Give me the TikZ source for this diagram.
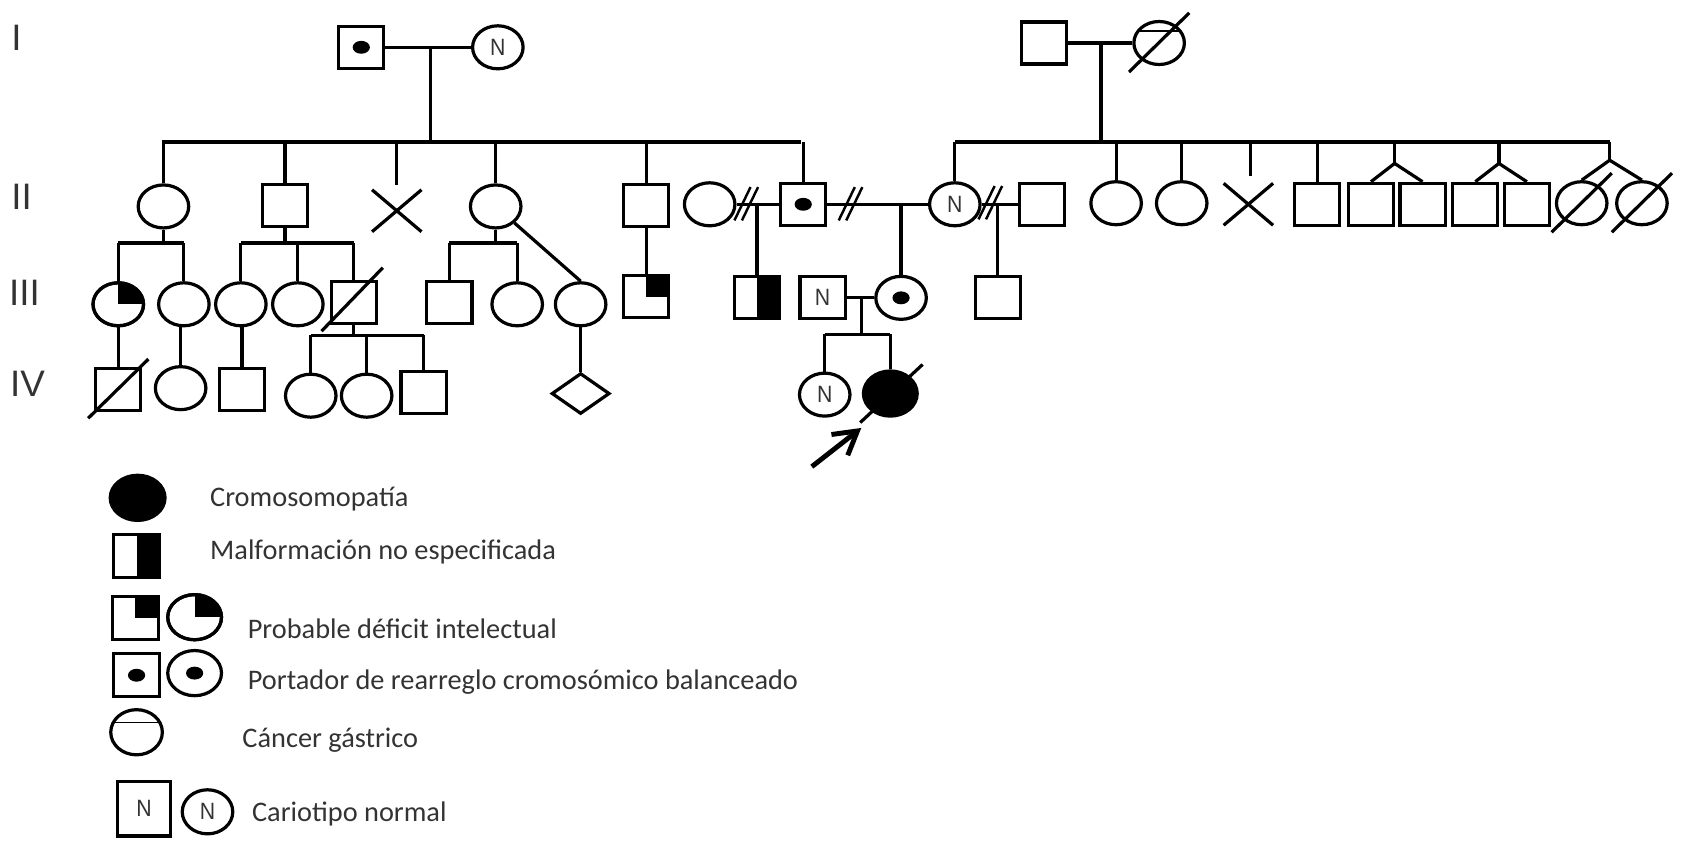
\documentclass[tikz,border=0pt]{standalone}
\usepackage{fontspec}
\setmainfont{Carlito}
\newfontfamily\nfont[FakeStretch=0.9]{Liberation Sans}
\newfontfamily\gfont{Liberation Sans}
\usetikzlibrary{shapes.geometric,shapes.misc,arrows.meta}
\definecolor{ngray}{HTML}{333333}
\begin{document}
\begin{tikzpicture}[x=0.02cm,y=-0.02cm,line width=1.7pt,
  sq/.style={draw,rectangle,inner sep=0pt,minimum width=0.84cm,minimum height=0.78cm},
  ci/.style={draw,ellipse,inner sep=0pt,minimum width=0.94cm,minimum height=0.80cm},
  xx/.style={draw,cross out,inner sep=0pt,minimum width=0.86cm,minimum height=0.72cm},
  dia/.style={draw,diamond,inner sep=0pt,minimum width=1.08cm,minimum height=0.76cm},
  nt/.style={font=\nfont\fontsize{12.5}{14}\selectfont,text=ngray},
  gen/.style={anchor=base west,inner sep=0pt,font=\gfont\fontsize{19.5}{22}\selectfont,text=ngray},
  leg/.style={anchor=base west,inner sep=0pt,font=\fontsize{15}{18}\selectfont,text=ngray},
  dslash/.pic={\draw[line width=1.3pt] (-11,15) -- (4,-16); \draw[line width=1.3pt] (-4,15) -- (11,-16);},
  thin/.style={line width=0.8pt},
  dot/.style={x radius=0.16cm, y radius=0.12cm},
]
\useasboundingbox (0,0) rectangle (1568,783);

% generation labels
\node[gen] (gI) at (9,47) {I};
\node[gen] (gII) at (9,195) {II};
\node[gen] (gIII) at (7,284) {III};
\node[gen] (gIV) at (8,369) {IV};

% generation I
\node[sq] (I1) at (336,44) {};
\node[ci,nt] (I2) at (463,44) {N};
\node[sq] (I3) at (971,40) {};
\node[ci] (I4) at (1078,40) {};
\fill (I1.center) ellipse [dot];
\draw[thin] ([shift={(-19,-11)}]I4.center) -- ([shift={(19,-11)}]I4.center);
\draw ([shift={(-28,27)}]I4.center) -- ([shift={(28,-28)}]I4.center);

% generation II
\node[ci] (II1) at (152,192) {};
\node[sq] (II2) at (265,191) {};
\node[xx] (II3) at (369,196) {};
\node[ci] (II4) at (461,192) {};
\node[sq] (II5) at (601,191) {};
\node[ci] (II6) at (660,190) {};
\node[sq] (II7) at (747,190) {};
\node[ci,nt] (II8) at (888,190) {N};
\node[sq] (II9) at (969,190) {};
\node[ci] (II10) at (1038,189) {};
\node[ci] (II11) at (1099,189) {};
\node[xx] (II12) at (1161,190) {};
\node[sq] (II13) at (1225,190) {};
\node[sq] (II14) at (1275,190) {};
\node[sq] (II15) at (1323,190) {};
\node[sq] (II16) at (1372,190) {};
\node[sq] (II17) at (1420,190) {};
\node[ci] (II18) at (1471,189) {};
\node[ci] (II19) at (1527,189) {};
\fill (II7.center) ellipse [dot];
\draw ([shift={(-28,27)}]II18.center) -- ([shift={(28,-28)}]II18.center);
\draw ([shift={(-28,27)}]II19.center) -- ([shift={(28,-28)}]II19.center);

% generation III
\node[ci] (III1) at (110,283) {};
\node[ci] (III2) at (171,283) {};
\node[ci] (III3) at (224,283) {};
\node[ci] (III4) at (277,283) {};
\node[sq] (III5) at (329,281) {};
\node[sq] (III6) at (418,281) {};
\node[ci] (III7) at (481,283) {};
\node[ci] (III8) at (540,283) {};
\node[sq] (III9) at (601,276) {};
\node[sq] (III10) at (704,277) {};
\node[sq,nt] (III11) at (765,277) {N};
\node[ci] (III12) at (838,277) {};
\node[sq] (III13) at (928,277) {};
\begin{scope}
  \clip (III1.center) ellipse [x radius=0.47cm, y radius=0.40cm];
  \fill (III1.center) rectangle (III1.north -| III1.east);
\end{scope}
\draw (III1) ellipse [x radius=0.47cm, y radius=0.40cm];
\draw ([shift={(-30,27)}]III5.center) -- ([shift={(27,-32)}]III5.center);
\fill (III9.center) rectangle (III9.north east);
\fill (III10.north) rectangle (III10.south east);
\fill (III12.center) ellipse [dot];

% generation IV
\node[sq] (IV1) at (110,362) {};
\node[ci] (IV2) at (168,361) {};
\node[sq] (IV3) at (225,362) {};
\node[ci] (IV4) at (289,368) {};
\node[ci] (IV5) at (341,368) {};
\node[sq] (IV6) at (394,365) {};
\node[dia] (IV7) at (540,366) {};
\node[ci,nt] (IV8) at (767,367) {N};
\node[ci,fill=black,minimum width=1.0cm,minimum height=0.84cm] (IV9) at (828,366) {};
\draw ([shift={(-28,27)}]IV1.center) -- ([shift={(28,-28)}]IV1.center);
\draw ([shift={(-28,27)}]IV9.center) -- ([shift={(30,-27)}]IV9.center);

% connectors: generation I -> II (left family)
\coordinate (cI1) at (400,44);
\coordinate (bL) at (151,132);
\coordinate (bR) at (745,132);
\coordinate (tII3) at (369,172);
\draw (I1) -- (I2);
\draw (cI1) -- (cI1 |- bL);
\draw (bL) -- (bR);
\draw (II1.north) -- (II1.north |- bL);
\draw (II2.north) -- (II2.north |- bL);
\draw (tII3) -- (tII3 |- bL);
\draw (II4.north) -- (II4.north |- bL);
\draw (II5.north) -- (II5.north |- bL);
\draw (II7.north) -- (II7.north |- bL);

% connectors: generation I -> II (right family)
\coordinate (cI2) at (1024,40);
\coordinate (bR1) at (888,132);
\coordinate (bR2) at (1497,132);
\coordinate (tII12) at (1163,164);
\coordinate (tw1) at (1297,152);
\coordinate (tw2) at (1394,152);
\coordinate (tw3) at (1497,149);
\draw (I3) -- (I4);
\draw (cI2) -- (cI2 |- bR1);
\draw (bR1) -- (bR2);
\draw (II8.north) -- (II8.north |- bR1);
\draw (II10.north) -- (II10.north |- bR1);
\draw (II11.north) -- (II11.north |- bR1);
\draw (tII12) -- (tII12 |- bR1);
\draw (II13.north) -- (II13.north |- bR1);
\draw (tw1 |- bR1) -- (tw1);
\draw (II14.north) -- (tw1) -- (II15.north);
\draw (tw2 |- bR1) -- (tw2);
\draw (II16.north) -- (tw2) -- (II17.north);
\draw (tw3 |- bR1) -- (tw3);
\draw (II18.north) -- (tw3) -- (II19.north);

% couples in generation II
\coordinate (cII67) at (704,190);
\coordinate (cII78) at (838,190);
\coordinate (cII89) at (928,190);
\draw (II6) -- (II7);
\draw (II7) -- (II8);
\draw (II8) -- (II9);
\pic at (694,190) {dslash};
\pic at (791,190) {dslash};
\pic at (921,189) {dslash};
\draw (cII67) -- (III10.north);
\draw (cII78) -- (III12.north);
\draw (cII89) -- (III13.north);

% generation II -> III
\coordinate (b1L) at (110,226);
\coordinate (b1R) at (171,226);
\draw (II1.south) -- (II1.south |- b1L);
\draw (b1L) -- (b1R);
\draw (III1.north) -- (III1.north |- b1L);
\draw (III2.north) -- (III2.north |- b1L);
\coordinate (b2L) at (224,226);
\coordinate (b2R) at (329,226);
\draw (II2.south) -- (II2.south |- b2L);
\draw (b2L) -- (b2R);
\draw (III3.north) -- (III3.north |- b2L);
\draw (III4.north) -- (III4.north |- b2L);
\draw (III5.north) -- (III5.north |- b2L);
\coordinate (b3L) at (418,226);
\coordinate (b3R) at (481,226);
\draw (II4.south) -- (II4.south |- b3L);
\draw (b3L) -- (b3R);
\draw (III6.north) -- (III6.north |- b3L);
\draw (III7.north) -- (III7.north |- b3L);
\draw (II4) -- (III8.north);
\draw (II5.south) -- (III9.north);

% generation III -> IV
\draw (III1.south) -- (IV1.north);
\draw (IV2.north) -- (IV2.north |- III2.south);
\draw (IV3.north) -- (IV3.north |- III3.south);
\coordinate (b4L) at (289,312);
\coordinate (b4R) at (394,312);
\draw (III5.south) -- (III5.south |- b4L);
\draw (b4L) -- (b4R);
\draw (IV4.north) -- (IV4.north |- b4L);
\draw (IV5.north) -- (IV5.north |- b4L);
\draw (IV6.north) -- (IV6.north |- b4L);
\draw (III8.south) -- (IV7.north);
\coordinate (cIII) at (801,277);
\coordinate (b5L) at (767,311);
\coordinate (b5R) at (828,311);
\draw (III11) -- (III12);
\draw (cIII) -- (cIII |- b5L);
\draw (b5L) -- (b5R);
\draw (IV8.north) -- (IV8.north |- b5L);
\draw (IV9.north) -- (IV9.north |- b5L);

% proband arrow
\coordinate (arS) at (755,434);
\coordinate (arE) at (801,398);
\draw[line width=2.6pt,-{Straight Barb[length=12pt,width=14pt]}] (arS) -- (arE);

% legend
\node[ci,fill=black,minimum width=1.02cm,minimum height=0.84cm] (L1) at (128,463) {};
\node[sq,minimum width=0.86cm,minimum height=0.80cm] (L2) at (127,517) {};
\fill (L2.north) rectangle (L2.south east);
\node[sq,minimum width=0.86cm,minimum height=0.80cm] (L3a) at (126,575) {};
\fill (L3a.center) rectangle (L3a.north east);
\node[ci,minimum width=1.0cm,minimum height=0.84cm] (L3b) at (181,574) {};
\begin{scope}
  \clip (L3b.center) ellipse [x radius=0.5cm, y radius=0.42cm];
  \fill (L3b.center) rectangle (L3b.north -| L3b.east);
\end{scope}
\draw (L3b.center) ellipse [x radius=0.5cm, y radius=0.42cm];
\node[sq,minimum width=0.86cm,minimum height=0.80cm] (L4a) at (127,628) {};
\fill (L4a.center) ellipse [dot];
\node[ci,minimum width=1.0cm,minimum height=0.84cm] (L4b) at (181,626) {};
\fill (L4b.center) ellipse [dot];
\node[ci,minimum width=0.96cm,minimum height=0.84cm] (L5) at (127,681) {};
\draw[thin] ([shift={(-22,-9)}]L5.center) -- ([shift={(22,-9)}]L5.center);
\node[sq,nt,minimum width=0.98cm,minimum height=1.02cm] (L6a) at (134,752) {N};
\node[ci,nt,minimum width=0.94cm,minimum height=0.82cm] (L6b) at (193,755) {N};

\node[leg] (t1) at (194,471) {Cromosomopatía};
\node[leg] (t2) at (194,520) {Malformación no especificada};
\node[leg] (t3) at (229,594) {Probable déficit intelectual};
\node[leg] (t4) at (229,641) {Portador de rearreglo cromosómico balanceado};
\node[leg] (t5) at (224,695) {Cáncer gástrico};
\node[leg] (t6) at (233,764) {Cariotipo normal};
\end{tikzpicture}
\end{document}
